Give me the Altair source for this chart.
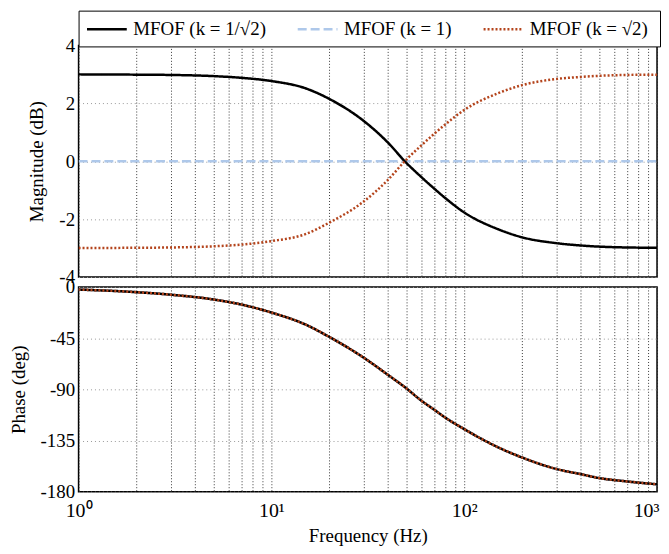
import altair as alt
import pandas as pd

# ---- data ----
freq = [1, 2, 3, 5, 7, 10, 15, 20, 30, 40, 50, 60, 70, 80, 100, 150, 200, 300, 400, 500, 700, 1000]

series_names = ["MFOF  (k = 1/√2)", "MFOF  (k = 1)", "MFOF  (k = √2)"]

mag_inv_sqrt2 = [3.0, 2.99, 2.98, 2.94, 2.88, 2.77, 2.52, 2.15, 1.40, 0.66, -0.05, -0.55, -0.95,
                 -1.28, -1.77, -2.35, -2.63, -2.83, -2.91, -2.95, -2.98, -2.99]
mag_one = [0.0, 0.0, 0.0, 0.0, 0.0, 0.0, 0.0, 0.0, 0.0, 0.0, 0.0, 0.0, 0.0,
           0.0, 0.0, 0.0, 0.0, 0.0, 0.0, 0.0, 0.0, 0.0]
mag_sqrt2 = [-3.0, -2.99, -2.98, -2.94, -2.88, -2.76, -2.52, -2.12, -1.40, -0.66, 0.05, 0.55, 0.95,
             1.28, 1.77, 2.35, 2.63, 2.84, 2.91, 2.95, 2.98, 2.99]

phase_inv_sqrt2 = [-2.3, -4.6, -6.8, -11.0, -15.5, -22.5, -33.0, -44.0, -62.0, -77.0, -89.0, -100.0,
                   -108.0, -115.0, -125.0, -141.0, -150.0, -160.0, -164.5, -168.0, -171.0, -173.5]
phase_one = [-2.3, -4.6, -6.8, -11.0, -15.5, -22.5, -33.0, -44.0, -62.0, -77.0, -89.0, -100.0,
             -108.0, -115.0, -125.0, -141.0, -150.0, -160.0, -164.5, -168.0, -171.0, -173.5]
phase_sqrt2 = [-2.3, -4.6, -6.8, -11.0, -15.5, -22.5, -33.0, -44.0, -62.0, -77.0, -89.0, -100.0,
               -108.0, -115.0, -125.0, -141.0, -150.0, -160.0, -164.5, -168.0, -171.0, -173.5]

x_grid = [1, 2, 3, 4, 5, 6, 7, 8, 9, 10, 20, 30, 40, 50, 60, 70, 80, 90,
          100, 200, 300, 400, 500, 600, 700, 800, 900, 1000]
mag_ticks = [-4, -2, 0, 2, 4]
phase_ticks = [-180, -135, -90, -45, 0]

colors = ["#000000", "#aec8ea", "#b4441c"]
dashes = [[1, 0], [9, 4], [2, 2]]

rows = []
for name, m, p in zip(series_names,
                      [mag_inv_sqrt2, mag_one, mag_sqrt2],
                      [phase_inv_sqrt2, phase_one, phase_sqrt2]):
    for f, mv, pv in zip(freq, m, p):
        rows.append({"f": f, "series": name, "mag": mv, "phase": pv})
df = pd.DataFrame(rows)

FONT = "Liberation Serif"

legend = alt.Legend(
    title=None, orient="none", direction="horizontal", columns=3,
    legendX=0, legendY=-35,
    strokeColor="black", fillColor="white", padding=7, cornerRadius=0,
    symbolType="M-1,0H3", symbolSize=400, symbolStrokeWidth=2.5,
    labelFont=FONT, labelFontSize=19, labelColor="black", columnPadding=21, labelOffset=25,
)

color_enc = alt.Color("series:N", scale=alt.Scale(domain=series_names, range=colors), legend=legend)
dash_enc = alt.StrokeDash("series:N", scale=alt.Scale(domain=series_names, range=dashes), legend=legend)

xscale = alt.Scale(type="log", domain=[1, 1000], nice=False)

label_expr = ("datum.value == 1 ? '10⁰' : datum.value == 10 ? '10¹' : "
              "datum.value == 100 ? '10²' : datum.value == 1000 ? '10³' : ''")

x_top = alt.X("f:Q", scale=xscale,
              axis=alt.Axis(values=x_grid, labels=False, ticks=False, title=None,
                            grid=True, gridColor="#222", gridDash=[1, 2], gridOpacity=0.9))
x_bot = alt.X("f:Q", scale=xscale,
              axis=alt.Axis(values=x_grid, labelExpr=label_expr, ticks=False, title="Frequency  (Hz)",
                            grid=True, gridColor="#222", gridDash=[1, 2], gridOpacity=0.9,
                            labelFontSize=20, labelPadding=9, titlePadding=6,
                            labelAlign={"condition": {"test": "datum.value == 1000", "value": "right"},
                                        "value": "center"},
                            labelOffset={"condition": {"test": "datum.value == 1000", "value": 2},
                                         "value": 0}))

draw_order = [series_names[1], series_names[0], series_names[2]]


def panel(field, yscale, yaxis, h):
    layers = []
    for name in draw_order:
        layers.append(
            alt.Chart(df).transform_filter(alt.datum.series == name)
            .mark_line(strokeWidth=2.5, interpolate="monotone", clip=True)
            .encode(
                x=x_top if field == "mag" else x_bot,
                y=alt.Y(f"{field}:Q", scale=yscale, axis=yaxis),
                color=color_enc,
                strokeDash=dash_enc,
            )
        )
    return alt.layer(*layers).properties(width=582, height=h)


top = panel("mag", alt.Scale(domain=[-4, 4], nice=False),
            alt.Axis(values=mag_ticks, title="Magnitude (dB)", labelExpr="'' + datum.value",
                     ticks=False, grid=True, gridColor="#999", gridDash=[1, 3],
                     labelPadding=4, titlePadding=12),
            233)
bot = panel("phase", alt.Scale(domain=[-180, 0], nice=False),
            alt.Axis(values=phase_ticks, title="Phase (deg)", labelExpr="'' + datum.value",
                     ticks=False, grid=True, gridColor="#999", gridDash=[1, 3],
                     labelPadding=4, titlePadding=12),
            206)

chart = alt.vconcat(top, bot, spacing=10, bounds="flush").properties(
    padding={"left": 0, "top": 0, "right": 0, "bottom": 0}, background="white"
).configure_view(
    stroke="black", strokeWidth=1.5
).configure_axis(
    labelFont=FONT, titleFont=FONT, labelFontSize=19, titleFontSize=19,
    titleFontWeight="normal", labelColor="black", titleColor="black", domain=False,
)

chart.save("out.html", embed_options={"renderer": "svg", "actions": False})
